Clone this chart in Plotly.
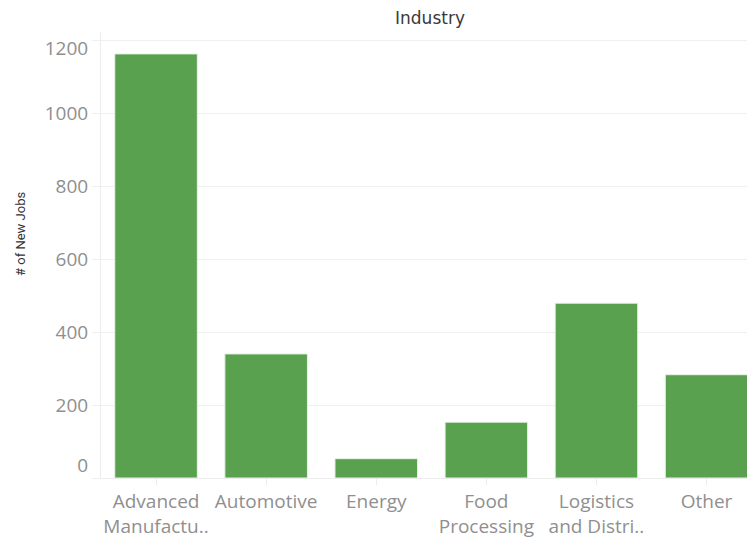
import plotly.graph_objects as go

categories = ["Advanced<br>Manufactu..", "Automotive", "Energy", "Food<br>Processing",
              "Logistics<br>and Distri..", "Other"]
new_jobs = [1162, 340, 53, 153, 479, 283]
y_ticks = [0, 200, 400, 600, 800, 1000, 1200]

GREEN = "#59a14f"
GRID = "#f0f0f0"
LABEL = "#8f8f8f"
FONT = "Open Sans"

# the page body adds an 8px offset; the figure is sized to fill the rest of the window
W, H = 747, 532
PLOT_W, PLOT_H = 654, 446
Y_RANGE = [0, 1222]

fig = go.Figure(go.Bar(
    x=list(range(len(categories))),
    y=new_jobs,
    marker=dict(color=GREEN, line=dict(color="#e8f3e6", width=1)),
    width=0.75,
    hoverinfo="skip",
))
# empty traces so that the two label-only overlay axes get drawn
fig.add_trace(go.Scatter(x=[], y=[], yaxis="y2", hoverinfo="skip"))
fig.add_trace(go.Scatter(x=[], y=[], yaxis="y3", hoverinfo="skip"))

# the end labels of the value axis are nudged inward, as in the source
inner_ticks = y_ticks[1:-1]
label_font = dict(family=FONT, size=19, color=LABEL)

def edge_axis(value, shift):
    return dict(overlaying="y", side="left", anchor="x", range=Y_RANGE,
                tickmode="array", tickvals=[value], ticktext=[str(value)],
                ticklabelshift=shift, ticks="outside", ticklen=8,
                tickcolor="rgba(0,0,0,0)",
                showgrid=False, zeroline=False, showline=False, automargin=False,
                tickfont=label_font)

fig.update_layout(
    width=W, height=H,
    margin=dict(l=93, r=0, t=24, b=62),
    paper_bgcolor="white", plot_bgcolor="white",
    showlegend=False,
    font=dict(family=FONT, color=LABEL),
    title=dict(text="Industry", x=422/W, xanchor="center", xref="container",
               y=1 - 10/H, yanchor="middle", yref="container",
               font=dict(family="DejaVu Sans", size=17, color="#3a3a3a")),
    annotations=[dict(
        text="# of New Jobs", textangle=-90,
        xref="paper", yref="paper",
        x=-81/PLOT_W, y=(446 - 202) / PLOT_H,
        xanchor="center", yanchor="middle", showarrow=False,
        font=dict(family="Roboto", size=13, color="#333333"),
    )],
    yaxis2=edge_axis(y_ticks[0], -13),
    yaxis3=edge_axis(y_ticks[-1], 8),
)

fig.update_xaxes(
    tickmode="array", tickvals=list(range(len(categories))), ticktext=categories,
    range=[-0.5, 5.44],
    automargin=False,
    showgrid=False, zeroline=False,
    showline=True, linecolor="#ececec", linewidth=1,
    ticks="outside", tickson="boundaries", ticklen=6, tickcolor="#ececec",
    tickfont=label_font,
    tickangle=0,
)

fig.update_layout(yaxis=dict(
    range=Y_RANGE,
    automargin=False,
    tickmode="array", tickvals=y_ticks,
    ticktext=["" if v not in inner_ticks else str(v) for v in y_ticks],
    showgrid=True, gridcolor=GRID, gridwidth=1,
    zeroline=False,
    showline=True, linecolor="#ececec", linewidth=1,
    ticks="outside", ticklen=8, tickcolor=GRID,
    tickfont=label_font,
))

fig.write_html("out.html")
